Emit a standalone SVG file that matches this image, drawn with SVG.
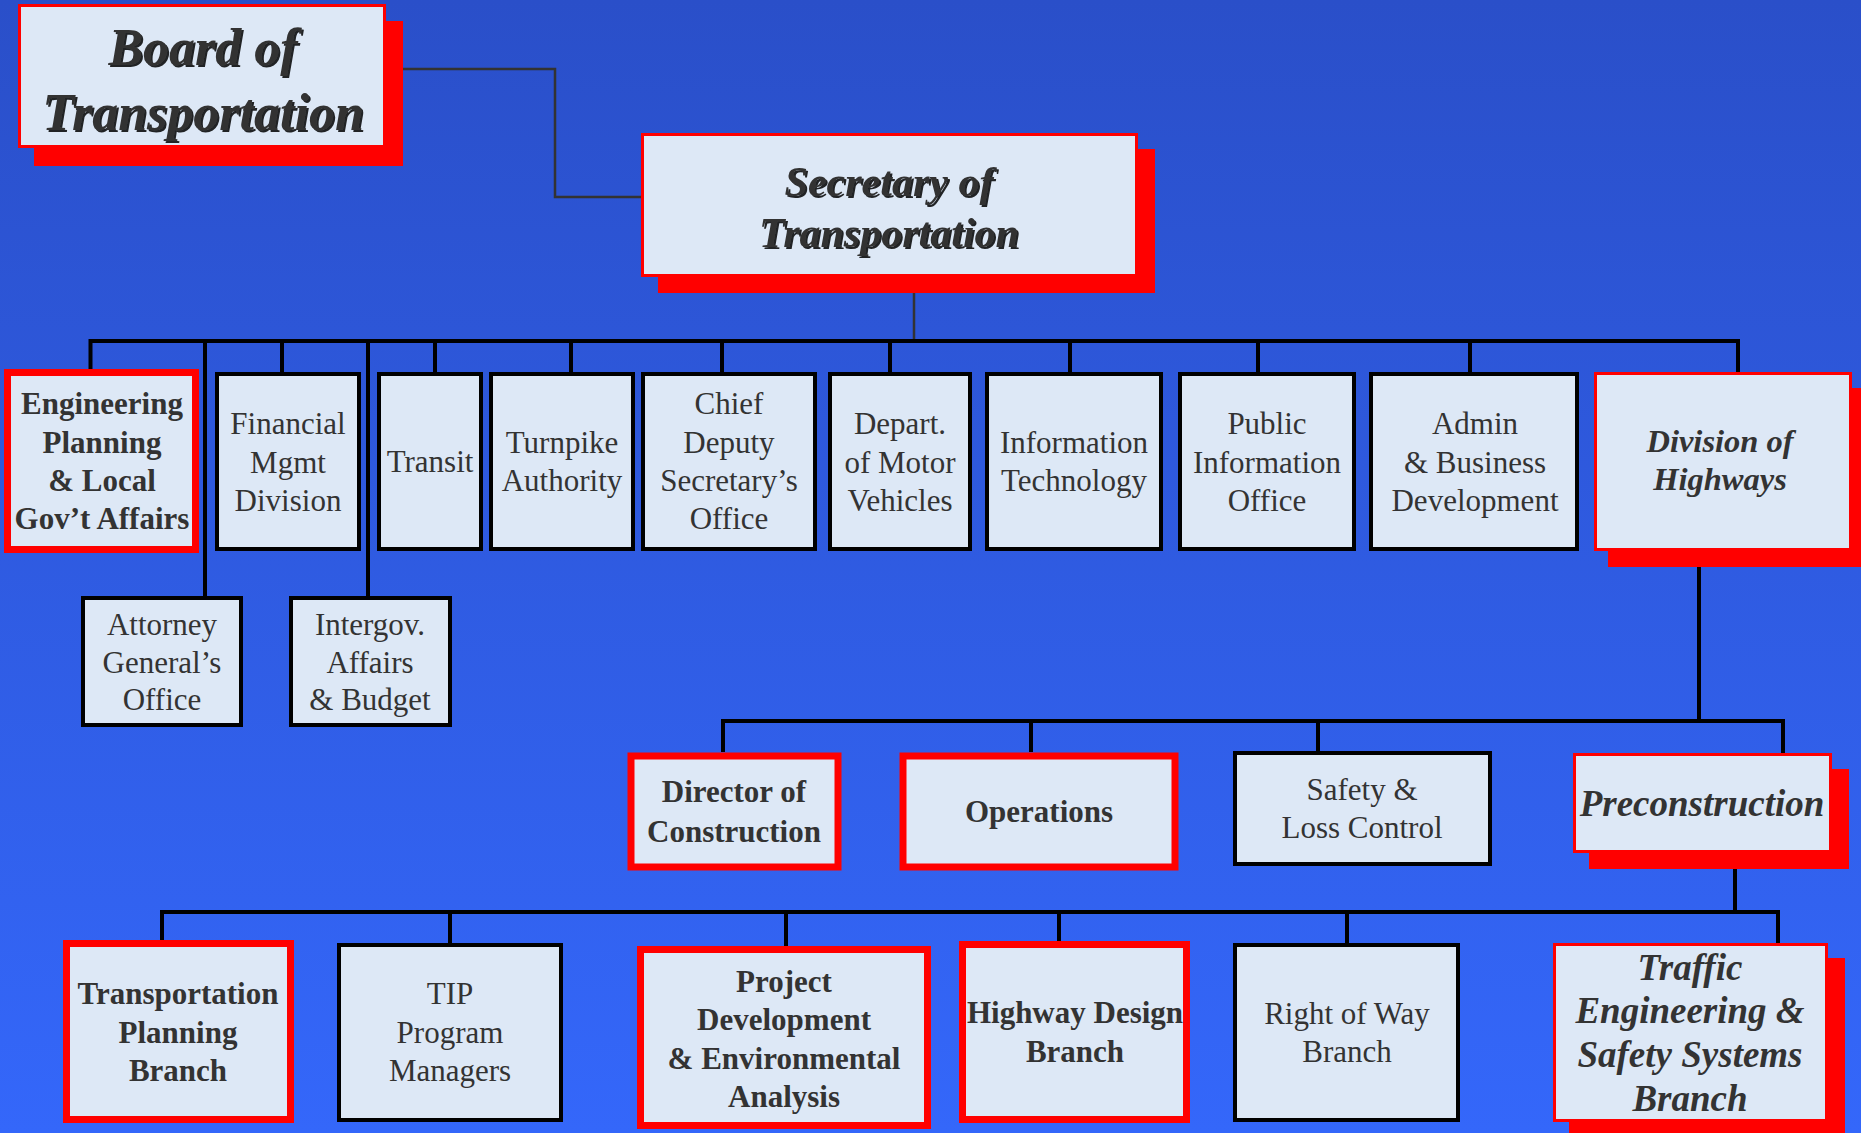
<svg xmlns="http://www.w3.org/2000/svg" width="1861" height="1133" viewBox="0 0 1861 1133">
<defs>
<linearGradient id="bg" x1="0" y1="0" x2="0" y2="1">
<stop offset="0" stop-color="#2a4fc9"/>
<stop offset="1" stop-color="#3467fa"/>
</linearGradient>
<filter id="tsh" x="-10%" y="-10%" width="120%" height="130%">
<feDropShadow dx="2" dy="2" stdDeviation="0.3" flood-color="#000" flood-opacity="0.85"/>
</filter>
</defs>
<style>
.blk{fill:#dde8f6;stroke:#000;stroke-width:4}
.thk{fill:#dde8f6;stroke:#ff0000;stroke-width:7}
.thn{fill:#dde8f6;stroke:#ff0000;stroke-width:3}
.shd{fill:#ff0000}
.t{font-family:"Liberation Serif","Times New Roman",serif;fill:#333;text-anchor:middle;font-size:31px}
.b{font-weight:bold}
.bi{font-weight:bold;font-style:italic}
.s32{font-size:32.5px}
.s37{font-size:37px}
.big{font-family:"Liberation Serif","Times New Roman",serif;fill:#333;text-anchor:middle;font-weight:bold;font-style:italic;filter:url(#tsh)}
.c{fill:none;stroke:#000;stroke-width:4}
.cg{fill:none;stroke:#333;stroke-width:2.5}
</style>
<rect x="0" y="0" width="1861" height="1133" fill="url(#bg)"/>
<g id="connectors">
<polyline class="cg" points="403,69 555,69 555,197 641,197"/>
<line class="cg" x1="914" y1="293" x2="914" y2="341"/>
<line class="c" x1="90.5" y1="341" x2="1740" y2="341"/>
<line class="c" x1="90.5" y1="339" x2="90.5" y2="369"/>
<line class="c" x1="205" y1="339" x2="205" y2="596"/>
<line class="c" x1="282" y1="339" x2="282" y2="372"/>
<line class="c" x1="368" y1="339" x2="368" y2="596"/>
<line class="c" x1="435" y1="339" x2="435" y2="372"/>
<line class="c" x1="571" y1="339" x2="571" y2="372"/>
<line class="c" x1="722" y1="339" x2="722" y2="372"/>
<line class="c" x1="890" y1="339" x2="890" y2="372"/>
<line class="c" x1="1070" y1="339" x2="1070" y2="372"/>
<line class="c" x1="1258" y1="339" x2="1258" y2="372"/>
<line class="c" x1="1470" y1="339" x2="1470" y2="372"/>
<line class="c" x1="1738" y1="339" x2="1738" y2="372"/>
<line class="c" x1="1699" y1="567" x2="1699" y2="721"/>
<line class="c" x1="723" y1="721" x2="1785" y2="721"/>
<line class="c" x1="723" y1="719" x2="723" y2="752"/>
<line class="c" x1="1031" y1="719" x2="1031" y2="752"/>
<line class="c" x1="1318" y1="719" x2="1318" y2="751"/>
<line class="c" x1="1783" y1="719" x2="1783" y2="753"/>
<line class="c" x1="1735" y1="869" x2="1735" y2="912"/>
<line class="c" x1="162" y1="912" x2="1780" y2="912"/>
<line class="c" x1="162" y1="910" x2="162" y2="940"/>
<line class="c" x1="450" y1="910" x2="450" y2="943"/>
<line class="c" x1="786" y1="910" x2="786" y2="946"/>
<line class="c" x1="1059" y1="910" x2="1059" y2="941"/>
<line class="c" x1="1347" y1="910" x2="1347" y2="943"/>
<line class="c" x1="1778" y1="910" x2="1778" y2="943"/>
</g>
<g id="board">
<rect class="shd" x="34" y="21" width="369" height="145"/>
<rect class="thn" x="19.5" y="5.5" width="365" height="141"/>
<text class="big" x="203" y="65" font-size="52">Board of</text>
<text class="big" x="203" y="130" font-size="52">Transportation</text>
</g>
<g id="secretary">
<rect class="shd" x="658" y="149" width="497" height="144"/>
<rect class="thn" x="642.5" y="134.5" width="494" height="141"/>
<text class="big" x="889" y="196" font-size="42">Secretary of</text>
<text class="big" x="889" y="247" font-size="42">Transportation</text>
</g>
<g id="engineering">
<rect class="thk" x="7.5" y="372.5" width="188" height="177"/>
<text class="t b" x="102" y="414">Engineering</text>
<text class="t b" x="102" y="453">Planning</text>
<text class="t b" x="102" y="491">&amp; Local</text>
<text class="t b" x="102" y="529">Gov’t Affairs</text>
</g>
<g id="financial">
<rect class="blk" x="217" y="374" width="142" height="175"/>
<text class="t" x="288" y="434">Financial</text>
<text class="t" x="288" y="473">Mgmt</text>
<text class="t" x="288" y="511">Division</text>
</g>
<g id="transit">
<rect class="blk" x="379" y="374" width="102" height="175"/>
<text class="t" x="430" y="472">Transit</text>
</g>
<g id="turnpike">
<rect class="blk" x="491" y="374" width="142" height="175"/>
<text class="t" x="562" y="453">Turnpike</text>
<text class="t" x="562" y="491">Authority</text>
</g>
<g id="chief">
<rect class="blk" x="643" y="374" width="172" height="175"/>
<text class="t" x="729" y="414">Chief</text>
<text class="t" x="729" y="453">Deputy</text>
<text class="t" x="729" y="491">Secretary’s</text>
<text class="t" x="729" y="529">Office</text>
</g>
<g id="dmv">
<rect class="blk" x="830" y="374" width="140" height="175"/>
<text class="t" x="900" y="434">Depart.</text>
<text class="t" x="900" y="473">of Motor</text>
<text class="t" x="900" y="511">Vehicles</text>
</g>
<g id="it">
<rect class="blk" x="987" y="374" width="174" height="175"/>
<text class="t" x="1074" y="453">Information</text>
<text class="t" x="1074" y="491">Technology</text>
</g>
<g id="public">
<rect class="blk" x="1180" y="374" width="174" height="175"/>
<text class="t" x="1267" y="434">Public</text>
<text class="t" x="1267" y="473">Information</text>
<text class="t" x="1267" y="511">Office</text>
</g>
<g id="admin">
<rect class="blk" x="1371" y="374" width="206" height="175"/>
<text class="t" x="1475" y="434">Admin</text>
<text class="t" x="1475" y="473">&amp; Business</text>
<text class="t" x="1475" y="511">Development</text>
</g>
<g id="division">
<rect class="shd" x="1608" y="388" width="253" height="179"/>
<rect class="thn" x="1595.5" y="373.5" width="255" height="176"/>
<text class="t bi s32" x="1720" y="452">Division of</text>
<text class="t bi s32" x="1720" y="490">Highways</text>
</g>
<g id="attorney">
<rect class="blk" x="83" y="598" width="158" height="127"/>
<text class="t" x="162" y="635">Attorney</text>
<text class="t" x="162" y="673">General’s</text>
<text class="t" x="162" y="710">Office</text>
</g>
<g id="intergov">
<rect class="blk" x="291" y="598" width="159" height="127"/>
<text class="t" x="370" y="635">Intergov.</text>
<text class="t" x="370" y="673">Affairs</text>
<text class="t" x="370" y="710">&amp; Budget</text>
</g>
<g id="director">
<rect class="thk" x="631" y="756" width="207" height="111"/>
<text class="t b" x="734" y="802">Director of</text>
<text class="t b" x="734" y="842">Construction</text>
</g>
<g id="operations">
<rect class="thk" x="903" y="756" width="272" height="111"/>
<text class="t b" x="1039" y="822">Operations</text>
</g>
<g id="safety">
<rect class="blk" x="1235" y="753" width="255" height="111"/>
<text class="t" x="1362" y="800">Safety &amp;</text>
<text class="t" x="1362" y="838">Loss Control</text>
</g>
<g id="preconstruction">
<rect class="shd" x="1589" y="769" width="260" height="100"/>
<rect class="thn" x="1574.5" y="754.5" width="256" height="97"/>
<text class="t bi s37" x="1702" y="816">Preconstruction</text>
</g>
<g id="transplanning">
<rect class="thk" x="66.5" y="943.5" width="224" height="176"/>
<text class="t b" x="178" y="1004">Transportation</text>
<text class="t b" x="178" y="1043">Planning</text>
<text class="t b" x="178" y="1081">Branch</text>
</g>
<g id="tip">
<rect class="blk" x="339" y="945" width="222" height="175"/>
<text class="t" x="450" y="1004">TIP</text>
<text class="t" x="450" y="1043">Program</text>
<text class="t" x="450" y="1081">Managers</text>
</g>
<g id="project">
<rect class="thk" x="640.5" y="949.5" width="287" height="176"/>
<text class="t b" x="784" y="992">Project</text>
<text class="t b" x="784" y="1030">Development</text>
<text class="t b" x="784" y="1069">&amp; Environmental</text>
<text class="t b" x="784" y="1107">Analysis</text>
</g>
<g id="hwydesign">
<rect class="thk" x="962.5" y="944.5" width="224" height="175"/>
<text class="t b" x="1075" y="1023">Highway Design</text>
<text class="t b" x="1075" y="1062">Branch</text>
</g>
<g id="rightofway">
<rect class="blk" x="1235" y="945" width="223" height="175"/>
<text class="t" x="1347" y="1024">Right of Way</text>
<text class="t" x="1347" y="1062">Branch</text>
</g>
<g id="traffic">
<rect class="shd" x="1569" y="958" width="276" height="180"/>
<rect class="thn" x="1554.5" y="944.5" width="272" height="176"/>
<text class="t bi s37" x="1690" y="980">Traffic</text>
<text class="t bi s37" x="1690" y="1023">Engineering &amp;</text>
<text class="t bi s37" x="1690" y="1067">Safety Systems</text>
<text class="t bi s37" x="1690" y="1111">Branch</text>
</g>
</svg>
